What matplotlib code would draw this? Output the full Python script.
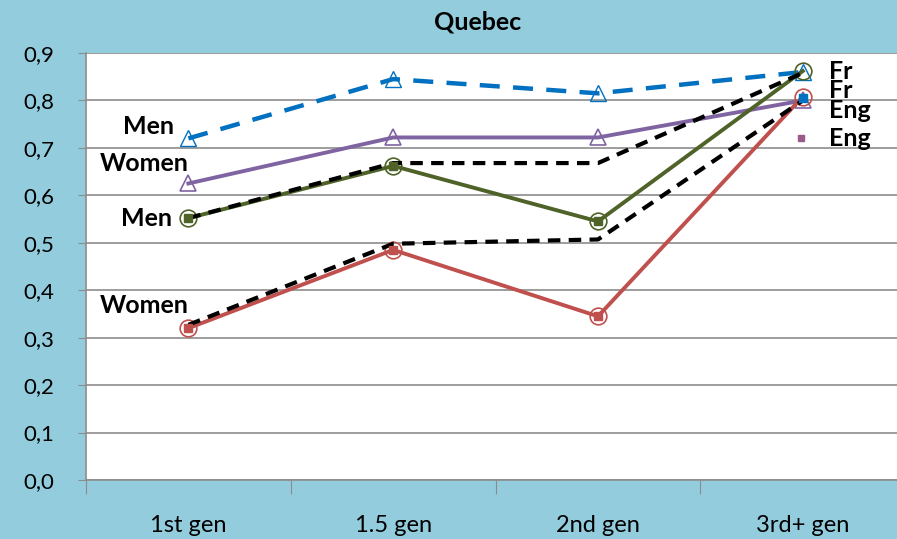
import matplotlib.pyplot as plt
from matplotlib.ticker import FixedLocator, FuncFormatter

plt.rcParams['font.family'] = ['Lato', 'DejaVu Sans']

# Data
generations = ['1st gen', '1.5 gen', '2nd gen', '3rd+ gen']
men_fr = [0.72, 0.845, 0.815, 0.86]          # blue dashed
women_fr = [0.625, 0.722, 0.722, 0.80]       # purple
men_eng = [0.552, 0.662, 0.545, 0.862]       # green
men_ref = [0.552, 0.668, 0.668, 0.858]       # black dashed (upper)
women_eng = [0.32, 0.485, 0.345, 0.808]      # red
women_ref = [0.327, 0.498, 0.507, 0.80]      # black dashed (lower)
square_3rd = 0.805

bg = '#93CDDD'
x = list(range(len(generations)))

fig = plt.figure(figsize=(8.97, 5.39), dpi=100, facecolor=bg)
ax = fig.add_axes([86 / 897, 59 / 539, 1 - 86 / 897, 427 / 539])
ax.set_facecolor('white')

# Lines
ax.plot(x, men_fr, color='#0070C0', lw=3.2, ls=(0, (4.5, 3)), marker='^',
        ms=11, mfc='none', mec='#0070C0', mew=1.0, zorder=3)
ax.plot(x, women_fr, color='#8064A2', lw=2.8, marker='^', ms=12,
        mfc='none', mec='#8064A2', mew=1.2, zorder=3)
ax.plot(x, men_eng, color='#4F6228', lw=2.8, marker='o', ms=12,
        mfc='none', mec='#4F6228', mew=1.2, zorder=3)
ax.plot(x, women_eng, color='#C0504D', lw=2.8, marker='o', ms=12,
        mfc='none', mec='#C0504D', mew=1.2, zorder=3)
ax.plot(x, men_ref, color='black', lw=3.0, ls=(0, (3, 2)), zorder=4)
ax.plot(x, women_ref, color='black', lw=3.0, ls=(0, (3, 2)), zorder=4)

# Small filled squares inside the circles
ax.plot(x[:3], men_eng[:3], ls='none', marker='s', ms=6, color='#4F6228', zorder=5)
ax.plot(x[:3], women_eng[:3], ls='none', marker='s', ms=6, color='#C0504D', zorder=5)
ax.plot([x[3]], [square_3rd], ls='none', marker='s', ms=6, color='#0070C0', zorder=5)

# Axis setup
ax.set_ylim(0, 0.9)
ax.set_xlim(-0.5, 3.46)
ax.yaxis.set_major_locator(FixedLocator([i / 10 for i in range(10)]))
ax.yaxis.set_major_formatter(FuncFormatter(lambda v, p: f'{v:.1f}'.replace('.', ',')))
ax.grid(axis='y', color='#8C8C8C', lw=1.2)
ax.set_axisbelow(True)
ax.tick_params(axis='y', length=6, color='#8C8C8C', labelsize=16, pad=17)

ax.set_xticks([-0.5, 0.5, 1.5, 2.5])
ax.set_xticklabels([])
ax.set_xticks(x, minor=True)
ax.set_xticklabels(generations, minor=True, fontsize=17)
ax.tick_params(axis='x', which='major', length=10, color='#8C8C8C')
ax.tick_params(axis='x', which='minor', length=0, pad=25)

for side in ['top', 'right']:
    ax.spines[side].set_visible(False)
ax.spines['left'].set_color('#8C8C8C')
ax.spines['bottom'].set_color('#8C8C8C')
ax.spines['left'].set_linewidth(1.2)
ax.spines['bottom'].set_linewidth(1.2)

# Series labels
lab = dict(fontsize=18, fontweight='bold', clip_on=False)
ax.text(-0.07, 0.745, 'Men', ha='right', va='center', **lab)
ax.text(0.0, 0.667, 'Women', ha='right', va='center', **lab)
ax.text(-0.08, 0.552, 'Men', ha='right', va='center', **lab)
ax.text(0.0, 0.367, 'Women', ha='right', va='center', **lab)

ax.text(3.13, 0.862, 'Fr', ha='left', va='center', **lab)
ax.text(3.13, 0.822, 'Fr', ha='left', va='center', **lab)
ax.text(3.13, 0.778, 'Eng', ha='left', va='center', **lab)
ax.text(3.13, 0.72, 'Eng', ha='left', va='center', **lab)
ax.plot([2.99], [0.72], ls='none', marker='s', ms=5, color='#9C5A8A', clip_on=False)

fig.text(478 / 897, 1 - 22 / 539, 'Quebec', ha='center', va='center',
         fontsize=18, fontweight='bold')

fig.savefig('out.png', dpi=100, facecolor=bg)
